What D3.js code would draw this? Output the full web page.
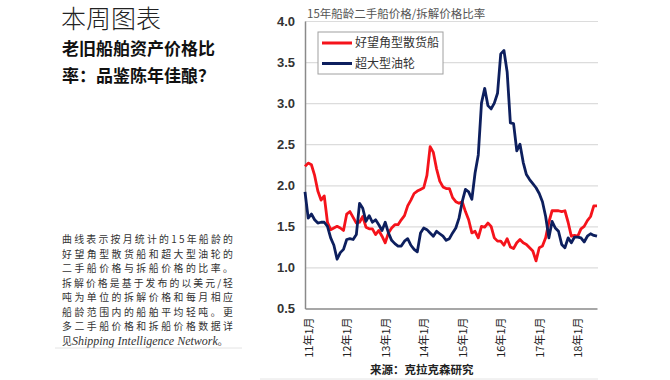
<!DOCTYPE html>
<html>
<head>
<meta charset="utf-8">
<script src="https://cdn.jsdelivr.net/npm/d3@7"></script>
<style>
  html, body { margin: 0; padding: 0; background: #fff; }
  svg { display: block; }
</style>
</head>
<body>
<svg id="chart" width="670" height="380"></svg>
<script>
// ---- data (monthly, Dec 2010 = month -1 ... Jul 2018 = month 90) ----
const startMonth = -1;
const capesize = [2.23,2.27,2.25,2.12,1.93,1.82,1.87,1.55,1.46,1.48,1.50,1.48,1.45,1.65,1.68,1.61,1.54,1.55,1.62,1.49,1.47,1.47,1.40,1.45,1.38,1.30,1.42,1.48,1.52,1.52,1.58,1.63,1.75,1.82,1.90,1.93,1.95,1.97,2.12,2.47,2.40,2.20,2.05,1.98,1.96,1.96,1.85,1.80,1.78,1.80,1.68,1.58,1.42,1.44,1.36,1.50,1.49,1.54,1.50,1.36,1.32,1.32,1.27,1.35,1.25,1.23,1.30,1.34,1.30,1.28,1.24,1.20,1.08,1.24,1.26,1.36,1.55,1.69,1.69,1.69,1.68,1.69,1.55,1.38,1.39,1.38,1.47,1.50,1.57,1.62,1.75,1.75];
const vlcc = [1.92,1.60,1.65,1.58,1.54,1.55,1.55,1.50,1.36,1.27,1.10,1.18,1.22,1.34,1.35,1.34,1.40,1.78,1.72,1.56,1.63,1.55,1.58,1.52,1.45,1.55,1.42,1.33,1.29,1.26,1.26,1.32,1.35,1.27,1.22,1.19,1.42,1.48,1.46,1.42,1.38,1.44,1.41,1.38,1.33,1.35,1.42,1.48,1.60,1.80,1.95,1.92,1.83,2.15,2.37,3.00,3.18,2.97,2.93,3.00,3.12,3.60,3.64,3.38,2.76,2.75,2.42,2.50,2.28,2.13,2.07,2.02,1.97,1.90,1.80,1.62,1.36,1.56,1.48,1.44,1.28,1.24,1.36,1.30,1.37,1.37,1.36,1.31,1.38,1.41,1.39,1.38];
const seriesNames = ["好望角型散货船", "超大型油轮"];
const seriesColors = ["#f5131b", "#0d1f5e"];
const yTicks = [0.5, 1.0, 1.5, 2.0, 2.5, 3.0, 3.5, 4.0];
const xTickMonths = [0, 12, 24, 36, 48, 60, 72, 84];
const xTickLabels = ["11年1月","12年1月","13年1月","14年1月","15年1月","16年1月","17年1月","18年1月"];

const pageTitle = "本周图表";
const headline = ["老旧船舶资产价格比", "率：品鉴陈年佳酿？"];
const bodyLines = ["曲线表示按月统计的15年船龄的","好望角型散货船和超大型油轮的","二手船价格与拆船价格的比率。","拆解价格是基于发布的以美元/轻","吨为单位的拆解价格和每月相应","船龄范围内的船舶平均轻吨。更","多二手船价格和拆船价格数据详"];
const chartTitle = "15年船龄二手船价格/拆解价格比率";
const sourceText = "来源：克拉克森研究";

// ---- drawing ----
const svg = d3.select("#chart");
const cjk = "'Noto Sans CJK SC', 'Noto Sans', sans-serif";

// left text block
svg.append("text").attr("x", 61).attr("y", 28)
  .style("font-family", cjk).style("font-size", "25px").style("font-weight", 300)
  .attr("fill", "#222").text(pageTitle);
headline.forEach((t, i) => {
  svg.append("text").attr("x", 62).attr("y", 55 + i * 27)
    .style("font-family", cjk).style("font-size", "17px").style("font-weight", 700)
    .attr("fill", "#111").text(t);
});
const lh = 14.5;
bodyLines.forEach((t, i) => {
  svg.append("text").attr("x", 62).attr("y", 243 + i * lh)
    .attr("textLength", 171).attr("lengthAdjust", "spacing")
    .style("font-family", cjk).style("font-size", "9.9px")
    .attr("fill", "#333").text(t);
});
const last = svg.append("text").attr("x", 62).attr("y", 243 + 7 * lh)
  .style("font-family", cjk).style("font-size", "9.9px").attr("fill", "#333");
last.append("tspan").text("见");
last.append("tspan").style("font-family", "'Liberation Serif', serif").style("font-style", "italic")
  .style("font-size", "12px").text("Shipping Intelligence Network");
last.append("tspan").text("。");
svg.append("line").attr("x1", 55).attr("x2", 242).attr("y1", 348).attr("y2", 348)
  .attr("stroke", "#e4e4e4").attr("stroke-width", 1);

// chart
const x = d3.scaleLinear().domain([startMonth, startMonth + capesize.length - 1]).range([305, 597]);
const y = d3.scaleLinear().domain([0.5, 4.0]).range([308.5, 21]);

// gridlines
svg.append("g")
  .attr("transform", "translate(305,0)")
  .call(d3.axisLeft(y).tickValues(yTicks.slice(1)).tickSize(-293).tickFormat(""))
  .call(g => g.select(".domain").remove())
  .call(g => g.selectAll("line").attr("stroke", "#dcdcdc").attr("stroke-width", 1.2));

// y axis
svg.append("g")
  .attr("transform", "translate(305,0)")
  .call(d3.axisLeft(y).tickValues(yTicks).tickSize(0).tickPadding(10).tickFormat(d3.format(".1f")))
  .call(g => g.select(".domain").attr("stroke", "#8a8a8a").attr("stroke-width", 1.5))
  .call(g => g.selectAll("text")
    .style("font-family", "'Liberation Sans', Arial, sans-serif")
    .style("font-size", "13px").style("font-weight", 700).attr("fill", "#333"));

// x axis
svg.append("g")
  .attr("transform", "translate(0,308.5)")
  .call(d3.axisBottom(x).tickValues(xTickMonths).tickSize(0)
    .tickFormat((d, i) => xTickLabels[i]))
  .call(g => g.select(".domain").attr("stroke", "#8a8a8a").attr("stroke-width", 1.5))
  .call(g => g.selectAll("text")
    .attr("transform", "rotate(-90)")
    .attr("x", -9).attr("y", 0).attr("dy", "0.35em")
    .attr("text-anchor", "end")
    .style("font-family", cjk).style("font-size", "11px").attr("fill", "#222"));

// chart title
svg.append("text").attr("x", 307).attr("y", 18)
  .style("font-family", cjk).style("font-size", "11.5px").attr("fill", "#555")
  .text(chartTitle);

// lines
const line = d3.line().x((d, i) => x(startMonth + i)).y(d => y(d));
[capesize, vlcc].forEach((s, k) => {
  svg.append("path").datum(s)
    .attr("d", line)
    .attr("fill", "none")
    .attr("stroke", seriesColors[k])
    .attr("stroke-width", 2.8)
    .attr("stroke-linejoin", "round");
});

// legend
const lg = svg.append("g");
lg.append("rect").attr("x", 318).attr("y", 32).attr("width", 125).attr("height", 42)
  .attr("fill", "#fff").attr("stroke", "#a0a0a0").attr("stroke-width", 1);
seriesNames.forEach((n, i) => {
  const yy = 43 + i * 20.5;
  lg.append("line").attr("x1", 322).attr("x2", 352).attr("y1", yy).attr("y2", yy)
    .attr("stroke", seriesColors[i]).attr("stroke-width", 3);
  lg.append("text").attr("x", 355).attr("y", yy).attr("dy", "0.35em")
    .style("font-family", cjk).style("font-size", "12px").attr("fill", "#333").text(n);
});

// source
svg.append("text").attr("x", 370).attr("y", 374)
  .style("font-family", cjk).style("font-size", "11.5px").style("font-weight", 700)
  .attr("fill", "#222").text(sourceText);
svg.append("line").attr("x1", 260).attr("x2", 598).attr("y1", 379).attr("y2", 379)
  .attr("stroke", "#e4e4e4").attr("stroke-width", 1);
</script>
</body>
</html>
